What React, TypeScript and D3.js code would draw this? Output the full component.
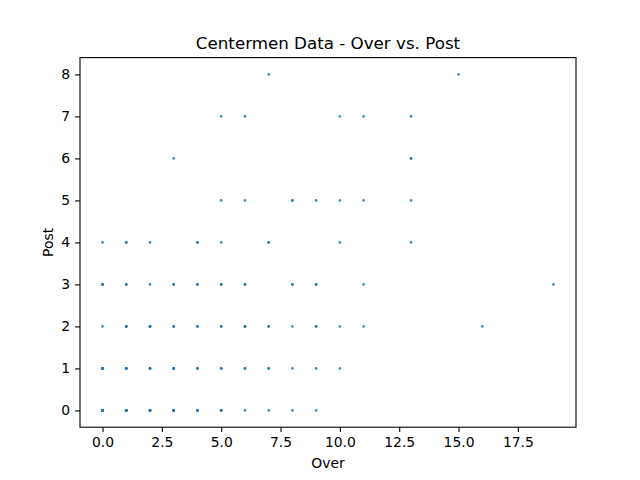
import { useEffect, useRef } from "react";
import * as d3 from "d3";

// Over / Post pairs, each listed with how many players share it
const overs = [
  0, 1, 2, 3, 4, 5, 6, 7, 8, 9,
  0, 1, 2, 3, 4, 5, 6, 7, 8, 9, 10,
  0, 1, 2, 3, 4, 5, 6, 7, 8, 9, 10, 11, 16,
  0, 1, 2, 3, 4, 5, 6, 8, 9, 11, 19,
  0, 1, 2, 4, 5, 7, 10, 13,
  5, 6, 8, 9, 10, 11, 13,
  3, 13,
  5, 6, 10, 11, 13,
  7, 15,
];
const posts = [
  0, 0, 0, 0, 0, 0, 0, 0, 0, 0,
  1, 1, 1, 1, 1, 1, 1, 1, 1, 1, 1,
  2, 2, 2, 2, 2, 2, 2, 2, 2, 2, 2, 2, 2,
  3, 3, 3, 3, 3, 3, 3, 3, 3, 3, 3,
  4, 4, 4, 4, 4, 4, 4, 4,
  5, 5, 5, 5, 5, 5, 5,
  6, 6,
  7, 7, 7, 7, 7,
  8, 8,
];
const counts = [
  8, 6, 5, 5, 3, 3, 1, 1, 1, 1,
  5, 4, 3, 4, 2, 2, 2, 2, 1, 1, 1,
  1, 3, 4, 2, 2, 2, 3, 2, 1, 2, 1, 1, 1,
  3, 2, 1, 2, 2, 2, 2, 2, 2, 1, 1,
  1, 2, 1, 2, 1, 2, 1, 1,
  1, 1, 2, 1, 1, 1, 1,
  1, 2,
  1, 1, 1, 1, 1,
  1, 1,
];
const xTicks = [0, 2.5, 5, 7.5, 10, 12.5, 15, 17.5];
const yTicks = [0, 1, 2, 3, 4, 5, 6, 7, 8];

const W = 640;
const H = 480;
const margin = { top: 57.6, right: 64, bottom: 52.8, left: 80 };
const FONT = "DejaVu Sans, sans-serif";

export default function App() {
  const svgRef = useRef<SVGSVGElement>(null);

  useEffect(() => {
    if (!svgRef.current) return;
    const svg = d3.select(svgRef.current);
    svg.selectAll("*").remove();

    const innerW = W - margin.left - margin.right;
    const innerH = H - margin.top - margin.bottom;

    // matplotlib-style 5% padding around the data range
    const xMin = d3.min(overs)!;
    const xMax = d3.max(overs)!;
    const yMin = d3.min(posts)!;
    const yMax = d3.max(posts)!;
    const xPad = (xMax - xMin) * 0.05;
    const yPad = (yMax - yMin) * 0.05;

    const x = d3
      .scaleLinear()
      .domain([xMin - xPad, xMax + xPad])
      .range([margin.left, margin.left + innerW]);
    const y = d3
      .scaleLinear()
      .domain([yMin - yPad, yMax + yPad])
      .range([margin.top + innerH, margin.top]);

    svg.append("rect").attr("width", W).attr("height", H).attr("fill", "#fff");

    // expand pairs into one mark per player
    const pts: { o: number; p: number }[] = [];
    overs.forEach((o, i) => {
      for (let k = 0; k < counts[i]; k++) pts.push({ o, p: posts[i] });
    });

    svg
      .append("g")
      .selectAll("circle")
      .data(pts)
      .join("circle")
      .attr("cx", (d) => x(d.o))
      .attr("cy", (d) => y(d.p))
      .attr("r", 1.3)
      .attr("fill", "#1f77b4")
      .attr("fill-opacity", 0.85);

    const xAxis = svg
      .append("g")
      .attr("transform", `translate(0,${margin.top + innerH})`)
      .call(
        d3
          .axisBottom(x)
          .tickValues(xTicks)
          .tickSize(4.9)
          .tickPadding(4.9)
          .tickFormat((d) => d3.format(".1f")(d as number))
      );
    const yAxis = svg
      .append("g")
      .attr("transform", `translate(${margin.left},0)`)
      .call(
        d3
          .axisLeft(y)
          .tickValues(yTicks)
          .tickSize(4.9)
          .tickPadding(4.9)
          .tickFormat((d) => String(d))
      );
    [xAxis, yAxis].forEach((a) => {
      a.select(".domain").remove();
      a.selectAll(".tick line").attr("stroke", "#000").attr("stroke-width", 1.1);
      a.selectAll(".tick text")
        .attr("fill", "#000")
        .attr("font-family", FONT)
        .attr("font-size", 13.9);
    });

    // frame
    svg
      .append("rect")
      .attr("x", margin.left)
      .attr("y", margin.top)
      .attr("width", innerW)
      .attr("height", innerH)
      .attr("fill", "none")
      .attr("stroke", "#000")
      .attr("stroke-width", 1.1);

    svg
      .append("text")
      .attr("x", margin.left + innerW / 2)
      .attr("y", margin.top - 8.3)
      .attr("text-anchor", "middle")
      .attr("font-family", FONT)
      .attr("font-size", 16.7)
      .text("Centermen Data - Over vs. Post");

    svg
      .append("text")
      .attr("x", margin.left + innerW / 2)
      .attr("y", 468)
      .attr("text-anchor", "middle")
      .attr("font-family", FONT)
      .attr("font-size", 13.9)
      .text("Over");

    svg
      .append("text")
      .attr("transform", `translate(53,${margin.top + innerH / 2}) rotate(-90)`)
      .attr("text-anchor", "middle")
      .attr("font-family", FONT)
      .attr("font-size", 13.9)
      .text("Post");
  }, []);

  return (
    <svg
      ref={svgRef}
      width={W}
      height={H}
      style={{ position: "absolute", left: 0, top: 0 }}
    />
  );
}
